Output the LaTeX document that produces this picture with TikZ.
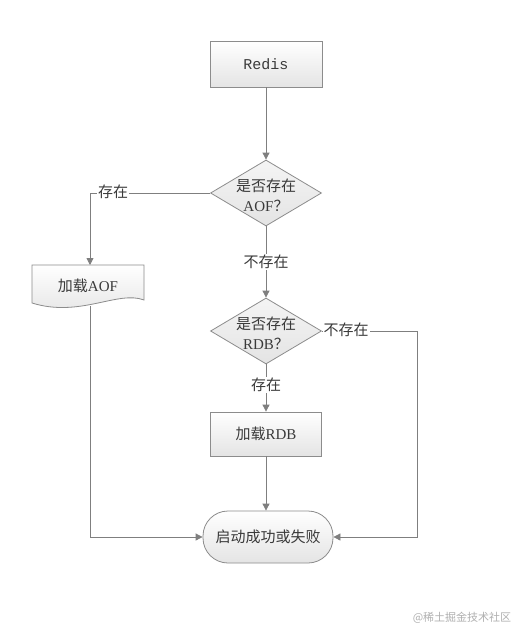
\documentclass[tikz,border=0pt]{standalone}
\usepackage{fontspec}
\setmainfont{Noto Sans CJK SC}
\newfontfamily\monofont{Liberation Mono}
\newfontfamily\latinfont{Liberation Serif}
\usetikzlibrary{shapes.geometric,arrows.meta}
\definecolor{bord}{HTML}{8C8C8C}
\definecolor{linec}{HTML}{7F7F7F}
\definecolor{txt}{HTML}{3A3A3A}
\definecolor{boxbot}{HTML}{E4E4E4}
\definecolor{wm}{HTML}{B0B0B0}
\begin{document}
\begin{tikzpicture}[x=1pt,y=-1pt,
  box/.style={draw=bord, line width=0.8pt, top color=white, bottom color=boxbot, minimum width=112pt, minimum height=46pt, inner sep=0pt, font=\fontsize{15}{18}\selectfont, text=txt},
  dia/.style={diamond, draw=bord, line width=0.8pt, top color=white!60!boxbot, bottom color=boxbot, minimum width=111pt, minimum height=66pt, inner sep=0pt},
  dtext/.style={align=center, inner sep=0pt, font=\fontsize{15}{20}\selectfont, text=txt},
  term/.style={draw=bord, line width=0.8pt, top color=white, bottom color=boxbot, rounded corners=25pt, minimum width=130pt, minimum height=52pt, inner sep=0pt, font=\fontsize{15}{18}\selectfont, text=txt},
  lab/.style={fill=white, inner sep=1pt, font=\fontsize{15}{18}\selectfont, text=txt},
  conn/.style={draw=linec, line width=0.8pt, -{Triangle[length=7pt,width=7pt]}},
  wmark/.style={font=\fontsize{11}{13}\selectfont, text=wm, inner sep=0pt}]
\useasboundingbox[fill=white] (0,0) rectangle (529,643);
% nodes
\node[box] (redis) at (266,64) {\monofont Redis};
\node[dia] (d1) at (266,193) {};
\node[dtext] (t1) at (266,195) {是否存在\\{\latinfont AOF}？};
\node[dia] (d2) at (266,331) {};
\node[dtext] (t2) at (266,333) {是否存在\\{\latinfont RDB}？};
\node[box, minimum width=111pt, minimum height=44pt] (rdb) at (266,434) {加载{\latinfont RDB}};
\node[term] (end) at (268,537) {启动成功或失败};
% document shape (load AOF)
\shade[draw=bord, line width=0.8pt, top color=white, bottom color=boxbot]
  (32,265) -- (144,265) -- (144,300)
  .. controls (118,290) and (80,318) .. (32,303) -- cycle;
\node[inner sep=0pt, font=\fontsize{15}{18}\selectfont, text=txt] (aof) at (88,286) {加载{\latinfont AOF}};
\coordinate (aoftop) at (90,265);
\coordinate (aofbot) at (90,306);
\coordinate (rc) at (417,537);
% connectors
\draw[conn] (redis) -- (d1);
\draw[conn] (d1.west) -| (aoftop);
\draw[conn] (d1) -- (d2);
\draw[conn] (d2.east) -| (rc) -- (end.east);
\draw[conn] (d2) -- (rdb);
\draw[conn] (rdb.south) -- (rdb.south |- end.north);
\draw[conn] (aofbot) |- (end.west);
% labels
\node[lab] (l1) at (113,192) {存在};
\node[lab] (l2) at (266,262) {不存在};
\node[lab] (l3) at (346,330) {不存在};
\node[lab] (l4) at (266,385) {存在};
\node[wmark] (w) at (462,618) {@稀土掘金技术社区};
\end{tikzpicture}
\end{document}
